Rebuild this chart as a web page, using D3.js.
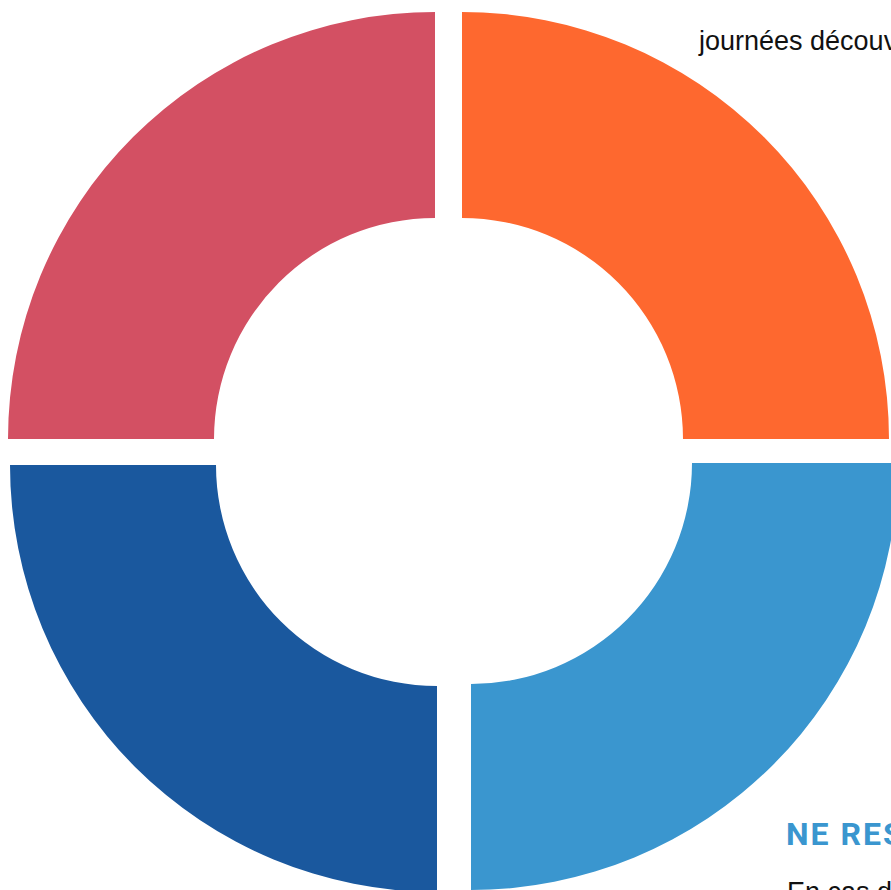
<!DOCTYPE html>
<html>
<head>
<meta charset="utf-8">
<script src="https://cdn.jsdelivr.net/npm/d3@7"></script>
<style>
  body { margin: 0; background: #fff; overflow: hidden; }
  svg { display: block; }
</style>
</head>
<body>
<svg id="chart"></svg>
<script>
// Chart data: four equal shares, clockwise from 12 o'clock
const segments = ["A", "B", "C", "D"];
const shares = [25, 25, 25, 25];
const colors = ["#FE682F", "#3A96CF", "#1A589E", "#D35063"];

const width = 891;
const height = 890;

const svg = d3.select("#chart")
    .attr("width", width)
    .attr("height", height);

// Each quarter is pushed away from the centre a little (exploded look)
const sliceCorners = [
    [462, 439], // top right
    [471, 463], // bottom right
    [437, 465], // bottom left
    [435, 439]  // top left
];

const pie = d3.pie().sort(null).value(d => d);
const arc = d3.arc()
    .innerRadius(221)
    .outerRadius(427);

svg.selectAll("path.slice")
    .data(pie(shares))
    .enter()
    .append("path")
    .attr("class", "slice")
    .attr("transform", (d, i) => `translate(${sliceCorners[i][0]},${sliceCorners[i][1]})`)
    .attr("d", arc)
    .attr("fill", (d, i) => colors[i]);

// Surrounding page text that overlaps the graphic
svg.append("text")
    .attr("x", 699)
    .attr("y", 50)
    .attr("font-family", "'Liberation Sans', Arial, sans-serif")
    .attr("font-size", "27px")
    .attr("fill", "#111")
    .text("journées découvertes");

svg.append("text")
    .attr("x", 786)
    .attr("y", 845)
    .attr("font-family", "Roboto, 'Noto Sans', sans-serif")
    .attr("font-weight", "bold")
    .attr("font-size", "32px")
    .attr("letter-spacing", "2px")
    .attr("fill", "#3A96CF")
    .text("NE RESTEZ PAS SEUL");

svg.append("text")
    .attr("x", 787)
    .attr("y", 901)
    .attr("font-family", "'Liberation Sans', Arial, sans-serif")
    .attr("font-size", "27px")
    .attr("fill", "#111")
    .text("En cas de besoin");
</script>
</body>
</html>
